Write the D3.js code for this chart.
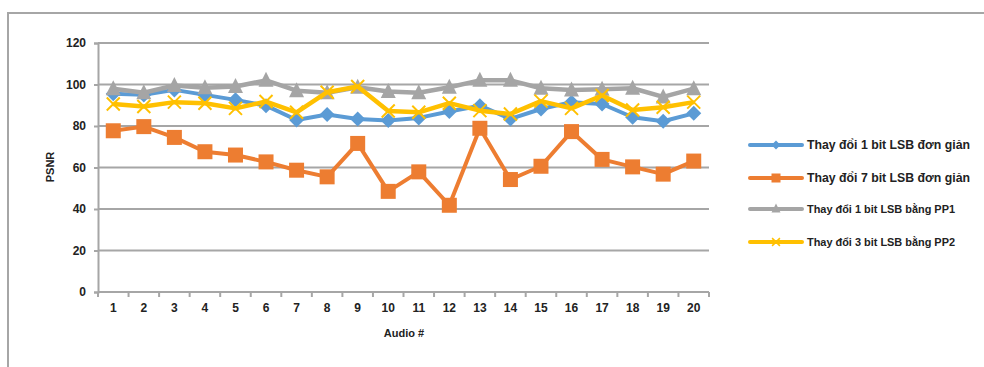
<!DOCTYPE html>
<html>
<head>
<meta charset="utf-8">
<script src="https://cdn.jsdelivr.net/npm/d3@7"></script>
<style>
  html, body { margin: 0; padding: 0; background: #fff; }
  svg { display: block; font-family: "Liberation Sans", Arial, sans-serif; }
</style>
</head>
<body>
<svg id="chart" width="984" height="367"></svg>
<script>
// Audio sample numbers on the x axis
const categories = ["1","2","3","4","5","6","7","8","9","10","11","12","13","14","15","16","17","18","19","20"];
const yTicks = [0, 20, 40, 60, 80, 100, 120];

// PSNR per audio file
const lsb1Simple = [95.5, 95, 97.4, 95, 92.6, 89.8, 82.9, 85.5, 83.4, 82.6, 83.9, 87, 89.8, 83.4, 88.2, 91.5, 90.6, 84.2, 82.3, 86.1];
const lsb7Simple = [77.7, 79.7, 74.5, 67.6, 66, 62.7, 58.7, 55.5, 71.6, 48.5, 57.9, 41.8, 78.9, 54.2, 60.6, 77.3, 63.9, 60.3, 56.8, 63.1];
const lsb1PP1   = [98, 96, 99.5, 98.4, 99, 102, 97, 96, 98.7, 96.6, 96, 98.7, 102, 102, 98.2, 97.4, 97.7, 98.2, 94, 98];
const lsb3PP2   = [90.6, 89.4, 91.5, 91, 88.5, 91.8, 86.6, 96.3, 99, 87.2, 86.6, 91, 87.4, 85.8, 92, 88.5, 94.7, 87.7, 89, 91.5];

const seriesNames = ["Thay đổi 1 bit LSB đơn giản", "Thay đổi 7 bit LSB đơn giản", "Thay đổi 1 bit LSB bằng PP1", "Thay đổi 3 bit LSB bằng PP2"];

const series = [
  { name: seriesNames[0], values: lsb1Simple, color: "#5b9bd5", marker: "diamond", width: 4 },
  { name: seriesNames[1], values: lsb7Simple, color: "#ed7d31", marker: "square", width: 4 },
  { name: seriesNames[2], values: lsb1PP1,   color: "#a5a5a5", marker: "triangle", width: 4.5 },
  { name: seriesNames[3], values: lsb3PP2,   color: "#ffc000", marker: "cross", width: 4.5 }
];

const svg = d3.select("#chart");
const gridColor = "#a6a6a6";

// outer chart frame (open on right/bottom)
svg.append("path")
  .attr("d", "M8,367 V13 H984")
  .attr("fill", "none").attr("stroke", gridColor).attr("stroke-width", 2);

const plot = { left: 98, right: 709, top: 43, bottom: 292 };

const x = d3.scaleBand().domain(categories).range([plot.left, plot.right]).padding(0);
const y = d3.scaleLinear().domain([0, 120]).range([plot.bottom, plot.top]);

// gridlines + y axis
const yAxis = d3.axisLeft(y).tickValues(yTicks).tickSize(4).tickPadding(8);
const gy = svg.append("g").attr("transform", `translate(${plot.left},0)`).call(yAxis);
gy.select(".domain").attr("stroke", gridColor).attr("stroke-width", 2);
gy.selectAll(".tick line").attr("stroke", gridColor).attr("stroke-width", 2);
gy.selectAll(".tick text").attr("font-size", 12).attr("font-weight", "bold").attr("fill", "#222");

svg.append("g").selectAll("line").data(yTicks).join("line")
  .attr("x1", plot.left).attr("x2", plot.right)
  .attr("y1", d => y(d)).attr("y2", d => y(d))
  .attr("stroke", gridColor).attr("stroke-width", 2);

// x axis with tick marks at category boundaries
const xAxis = d3.axisBottom(x).tickSize(0).tickPadding(11);
const gx = svg.append("g").attr("transform", `translate(0,${plot.bottom})`).call(xAxis);
gx.select(".domain").remove();
gx.selectAll(".tick text").attr("font-size", 12).attr("font-weight", "bold").attr("fill", "#222");
const bounds = categories.map(c => x(c)).concat([x(categories[categories.length - 1]) + x.bandwidth()]);
gx.selectAll("line.bound").data(bounds).join("line").attr("class", "bound")
  .attr("x1", d => d).attr("x2", d => d).attr("y1", 0).attr("y2", 5)
  .attr("stroke", gridColor).attr("stroke-width", 2);

// axis titles
svg.append("text").attr("transform", "translate(54,167) rotate(-90)")
  .attr("text-anchor", "middle").attr("font-size", 11).attr("font-weight", "bold").attr("fill", "#222")
  .text("PSNR");
svg.append("text").attr("x", 404).attr("y", 337)
  .attr("text-anchor", "middle").attr("font-size", 11).attr("font-weight", "bold").attr("fill", "#222")
  .text("Audio #");

// marker shapes
function drawMarker(g, type, color, cx, cy, scale) {
  const s = scale || 1;
  if (type === "diamond") {
    const r = 7.5 * s;
    g.append("path").attr("d", `M${cx},${cy - r} L${cx + r},${cy} L${cx},${cy + r} L${cx - r},${cy} Z`).attr("fill", color);
  } else if (type === "square") {
    const h = 7.5 * s;
    g.append("rect").attr("x", cx - h).attr("y", cy - h).attr("width", 2 * h).attr("height", 2 * h).attr("fill", color);
  } else if (type === "triangle") {
    const h = 7.5 * s;
    g.append("path").attr("d", `M${cx},${cy - h - 1} L${cx + h},${cy + h - 1} L${cx - h},${cy + h - 1} Z`).attr("fill", color);
  } else if (type === "cross") {
    const h = 6.5 * s;
    g.append("path").attr("d", `M${cx - h},${cy - h} L${cx + h},${cy + h} M${cx - h},${cy + h} L${cx + h},${cy - h}`)
      .attr("stroke", color).attr("stroke-width", 2 * Math.max(s, 0.75)).attr("fill", "none");
  }
}

const cx = c => x(c) + x.bandwidth() / 2;
const line = d3.line().x((d, i) => cx(categories[i])).y(d => y(d));

series.forEach(s => {
  const g = svg.append("g");
  g.append("path").datum(s.values).attr("d", line)
    .attr("fill", "none").attr("stroke", s.color).attr("stroke-width", s.width).attr("stroke-linejoin", "round");
  s.values.forEach((v, i) => drawMarker(g, s.marker, s.color, cx(categories[i]), y(v), 1));
});

// legend
const legendY = [145, 178, 209, 242];
const legendW = [163, 163, 148, 148];
series.forEach((s, i) => {
  const g = svg.append("g");
  g.append("line").attr("x1", 750).attr("x2", 802).attr("y1", legendY[i]).attr("y2", legendY[i])
    .attr("stroke", s.color).attr("stroke-width", 4).attr("stroke-linecap", "round");
  drawMarker(g, s.marker, s.color, 776, legendY[i], 0.6);
  g.append("text").attr("x", 807).attr("y", legendY[i] + 4)
    .attr("font-size", i < 2 ? 12.5 : 11.5).attr("font-weight", "bold").attr("fill", "#222")
    .attr("textLength", legendW[i]).attr("lengthAdjust", "spacingAndGlyphs")
    .text(s.name);
});
</script>
</body>
</html>
